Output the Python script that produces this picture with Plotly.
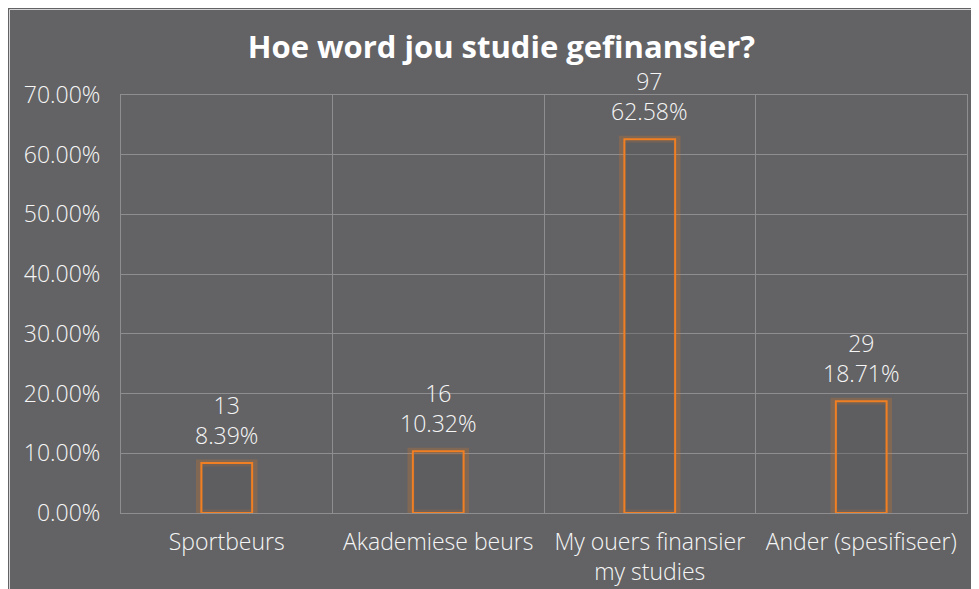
import plotly.graph_objects as go

categories = ["Sportbeurs", "Akademiese beurs", "My ouers finansier<br>my studies", "Ander (spesifiseer)"]
counts = [13, 16, 97, 29]
shares = [0.0839, 0.1032, 0.6258, 0.1871]
title_text = "Hoe word jou studie gefinansier?"

BG = "#636365"
GRID = "#8e8e90"
TXT = "#f6f6f6"
ORANGE = "#ef7f22"
FONT = "'Open Sans', Lato, sans-serif"
FS = 23

labels = [f"{c}<br>{s*100:.2f}%" for c, s in zip(counts, shares)]

fig = go.Figure()
# soft glow
fig.add_trace(go.Bar(
    x=categories, y=shares, width=0.258,
    marker=dict(color="rgba(0,0,0,0)", line=dict(color="rgba(238,125,34,0.22)", width=7)),
    hoverinfo="skip", showlegend=False,
))
fig.add_trace(go.Bar(
    x=categories, y=shares, width=0.24,
    marker=dict(color="rgba(85,85,90,0.35)", line=dict(color=ORANGE, width=2)),
    showlegend=False,
))

# value labels above bars
for cat, s, lab in zip(categories, shares, labels):
    fig.add_annotation(x=cat, y=s, text=lab, showarrow=False, yanchor="bottom",
                       yshift=10, font=dict(family=FONT, size=FS, color=TXT, weight=300))

W, H = 979, 589
L, R, T, B = 113, 20, 87, 84
pw, ph = W - L - R, H - T - B

fig.update_layout(
    width=W, height=H,
    margin=dict(l=L, r=R, t=T, b=B, autoexpand=False),
    paper_bgcolor=BG, plot_bgcolor=BG,
    barmode="overlay",
    title=dict(text=f"<b>{title_text}</b>", x=0.504, xref="container", xanchor="center",
               y=1 - 39 / H, yref="container", yanchor="middle",
               font=dict(family="'Open Sans', Lato, sans-serif", size=31, color="#ffffff")),
    font=dict(family=FONT, color=TXT),
    shapes=[
        dict(type="rect", xref="paper", yref="paper",
             x0=(1.5 - L) / pw, x1=(W + 5 - L) / pw, y0=-(B + 5) / ph, y1=1 + (T - 1.5) / ph,
             line=dict(color="#d4d4d4", width=1), layer="above"),
    ],
)
fig.update_xaxes(
    type="category", tickson="boundaries", showgrid=True, gridcolor=GRID, gridwidth=1,
    showline=True, mirror=True, linecolor=GRID, linewidth=1, automargin=False,
    ticks="", ticklabelstandoff=8, tickfont=dict(family=FONT, size=FS, color=TXT, weight=300),
)
fig.update_yaxes(
    range=[0, 0.7], dtick=0.1, tickformat=".2%", showgrid=True, gridcolor=GRID, gridwidth=1,
    showline=True, mirror=True, linecolor=GRID, linewidth=1, zeroline=False, automargin=False,
    ticks="", ticklabelstandoff=15, tickfont=dict(family=FONT, size=FS, color=TXT, weight=300),
)

fig.write_html("out.html")
